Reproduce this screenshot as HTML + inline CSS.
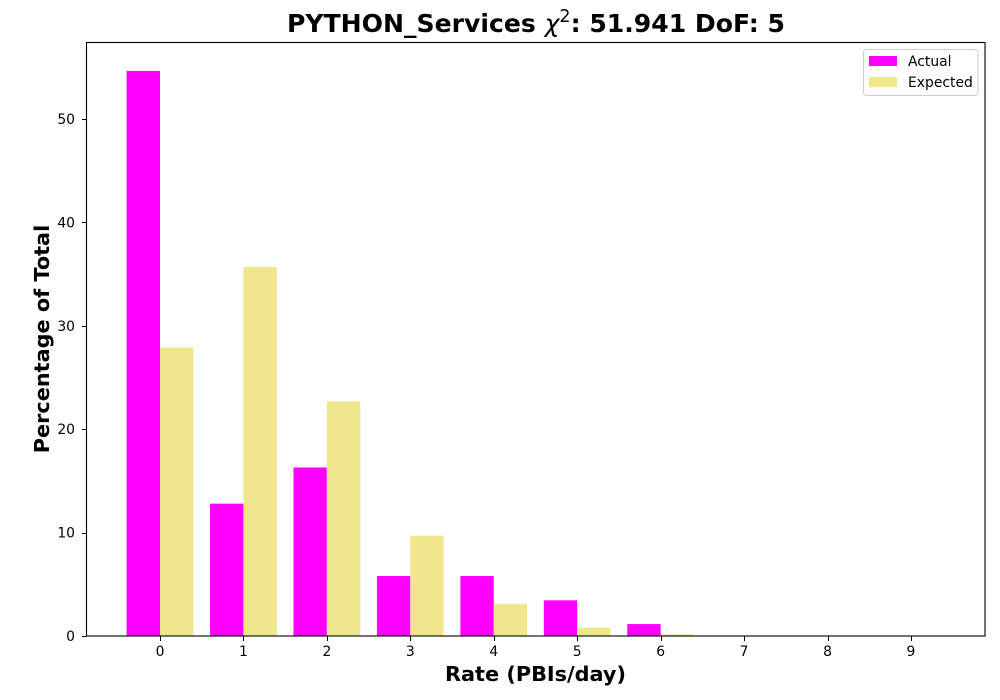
<!DOCTYPE html>
<html>
<head>
<meta charset="utf-8">
<title>PYTHON_Services chart</title>
<style>
html,body{margin:0;padding:0;background:#fff;width:1000px;height:700px;overflow:hidden}
svg{display:block}
text{font-family:"DejaVu Sans","Liberation Sans",sans-serif;fill:#000}
</style>
</head>
<body>
<svg id="chart" width="1000" height="700" viewBox="0 0 1000 700" xmlns="http://www.w3.org/2000/svg">
<rect x="0" y="0" width="1000" height="700" fill="#ffffff"/>
<g id="bars"></g>
<g id="ticks"></g>
<rect x="86.5" y="42.5" width="898.5" height="593.5" fill="none" stroke="#000" stroke-width="1.1"/>
<text x="536" y="32" text-anchor="middle" font-size="25.1" font-weight="bold">PYTHON_Services <tspan font-weight="normal" font-style="italic">χ</tspan><tspan font-weight="normal" font-size="17.5" dy="-10">2</tspan><tspan dy="10">: 51.941 DoF: 5</tspan></text>
<text x="535.5" y="681" text-anchor="middle" font-size="20.8" font-weight="bold">Rate (PBIs/day)</text>
<text x="0" y="0" transform="translate(49,339) rotate(-90)" text-anchor="middle" font-size="20.8" font-weight="bold">Percentage of Total</text>
<g>
<rect x="863.5" y="49.5" width="114.5" height="46" rx="3" fill="#ffffff" fill-opacity="0.8" stroke="#cccccc" stroke-width="1"/>
<rect x="869" y="56" width="28" height="10" fill="#ff00ff"/>
<text x="908" y="66" font-size="13.9" fill="#000">Actual</text>
<rect x="869" y="77" width="28" height="10" fill="#f0e68c"/>
<text x="908" y="87" font-size="13.9" fill="#000">Expected</text>
</g>
</svg>
<script>
const categories = [0, 1, 2, 3, 4, 5, 6, 7, 8, 9];
const actualValues = [54.65, 12.8, 16.3, 5.8, 5.8, 3.45, 1.15, 0, 0, 0];
const expectedValues = [27.9, 35.7, 22.7, 9.7, 3.1, 0.8, 0.17, 0.05, 0, 0];
const yTickLabels = [0, 10, 20, 30, 40, 50];

const NS = 'http://www.w3.org/2000/svg';
const barWidth = 0.4;
function xScale(v) { return 160 + v * 83.44; }
function yScale(v) { return 636 - v * 10.34; }

const barsGroup = document.getElementById('bars');
const ticksGroup = document.getElementById('ticks');

function drawBar(cat, value, offset, color) {
  const x0 = xScale(cat + offset);
  const x1 = xScale(cat + offset + barWidth);
  const y0 = yScale(value);
  const r = document.createElementNS(NS, 'rect');
  r.setAttribute('x', x0);
  r.setAttribute('y', y0);
  r.setAttribute('width', x1 - x0);
  r.setAttribute('height', yScale(0) - y0);
  r.setAttribute('fill', color);
  return r;
}

categories.forEach(function (c, i) {
  const a = drawBar(c, actualValues[i], -barWidth, '#ff00ff');
  
  
  barsGroup.appendChild(a);
  const e = drawBar(c, expectedValues[i], 0, '#f0e68c');
  
  
  barsGroup.appendChild(e);

  const px = Math.round(xScale(c)) + 0.5;
  const t = document.createElementNS(NS, 'line');
  t.setAttribute('x1', px);
  t.setAttribute('x2', px);
  t.setAttribute('y1', 636);
  t.setAttribute('y2', 641);
  t.setAttribute('stroke', '#000');
  
  
  ticksGroup.appendChild(t);
  const l = document.createElementNS(NS, 'text');
  l.setAttribute('x', xScale(c));
  l.setAttribute('y', 656);
  l.setAttribute('text-anchor', 'middle');
  l.setAttribute('font-size', '13.9');
  
  
  l.textContent = c;
  ticksGroup.appendChild(l);
});

yTickLabels.forEach(function (v) {
  const py = Math.round(yScale(v)) + 0.5;
  const t = document.createElementNS(NS, 'line');
  t.setAttribute('x1', 82);
  t.setAttribute('x2', 86.5);
  t.setAttribute('y1', py);
  t.setAttribute('y2', py);
  t.setAttribute('stroke', '#000');
  
  
  ticksGroup.appendChild(t);
  const l = document.createElementNS(NS, 'text');
  l.setAttribute('x', 75);
  l.setAttribute('y', yScale(v) + 5);
  l.setAttribute('text-anchor', 'end');
  l.setAttribute('font-size', '13.9');
  
  
  l.textContent = v;
  ticksGroup.appendChild(l);
});
</script>
</body>
</html>
